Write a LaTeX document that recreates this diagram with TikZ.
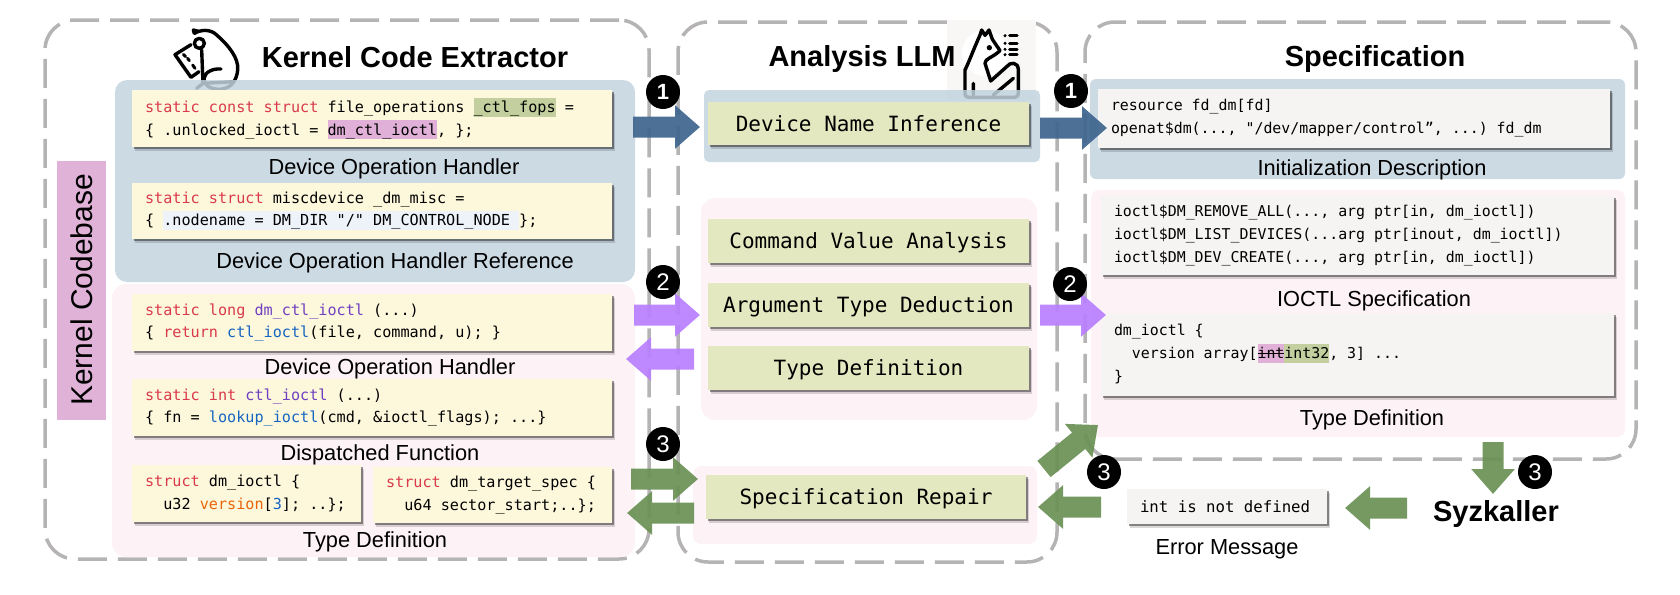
\documentclass[tikz,border=0pt]{standalone}
\usepackage{fontspec}
\usepackage{xcolor}
\setmainfont{Liberation Sans}
\setmonofont{DejaVu Sans Mono}
\usetikzlibrary{shadows,arrows.meta,calc}
\definecolor{dashgray}{HTML}{B5B3B3}
\definecolor{bluepanel}{HTML}{C3D3DF}
\definecolor{pinkpanel}{HTML}{FDF2F6}
\definecolor{codeyellow}{HTML}{FDF8DC}
\definecolor{stepgreen}{HTML}{E3E8C0}
\definecolor{specgray}{HTML}{F5F4F2}
\definecolor{basepink}{HTML}{E0B2D8}
\definecolor{bluearrow}{HTML}{3F658F}
\definecolor{purplearrow}{HTML}{B97FFF}
\definecolor{greenarrow}{HTML}{6A9155}
\definecolor{kwred}{HTML}{D93A4A}
\definecolor{fnpurple}{HTML}{7040C0}
\definecolor{fnblue}{HTML}{1565C0}
\definecolor{numorange}{HTML}{E8650A}
\definecolor{hlgreen}{HTML}{C3CF9E}
\definecolor{hlpink}{HTML}{E0B0D8}
\definecolor{hlblue}{HTML}{EEF3FA}
\newcommand{\hlc}[2]{{\setlength{\fboxsep}{0pt}\colorbox{#1}{\rule[-2pt]{0pt}{9.5pt}#2}}}
\newcommand{\kw}[1]{\textcolor{kwred}{#1}}
\newcommand{\fnp}[1]{\textcolor{fnpurple}{#1}}
\newcommand{\fnb}[1]{\textcolor{fnblue}{#1}}
\tikzset{
  every node/.style={inner sep=0pt, outer sep=0pt},
  px box/.style n args={4}{anchor=north west, minimum width=(#3-#1)*0.5pt, minimum height=(#4-#2)*0.5pt},
  dashpanel/.style={draw=dashgray, line width=1.75pt, rounded corners=15pt, dash pattern=on 14.5pt off 5.5pt},
  softshadow/.style={drop shadow={shadow xshift=1.5pt, shadow yshift=-1.8pt, fill=black, opacity=.15},
                     drop shadow={shadow xshift=.9pt, shadow yshift=-1.2pt, fill=black, opacity=.4}},
  codebox/.style={softshadow, fill=codeyellow, align=flush left, font=\ttfamily\fontsize{7.58}{11.2}\selectfont, inner xsep=6.5pt},
  specbox/.style={softshadow, fill=specgray, align=flush left, font=\ttfamily\fontsize{7.45}{11.5}\selectfont, inner xsep=6.5pt},
  stepbox/.style={softshadow, fill=stepgreen, align=center, text height=7.7pt, text depth=0pt, font=\ttfamily\fontsize{10.5}{12}\selectfont},
  caption/.style={font=\fontsize{10.9}{13}\selectfont, anchor=center, text height=7.8pt, text depth=0pt},
  title/.style={font=\bfseries\fontsize{14.5}{17}\selectfont, anchor=center, text height=10.4pt, text depth=0pt},
  badge/.style={circle, fill=black, text=white, minimum size=17pt, font=\fontsize{12}{13}\selectfont},
  blockarrow/.style={line width=10.5pt, -{Triangle[length=12.5pt,width=21pt]}, draw=#1},
  icon/.style={line width=1.7pt, line cap=round, line join=round, draw=black},
}
\begin{document}
\begin{tikzpicture}[x=0.5pt,y=-0.5pt]
\useasboundingbox (0,0) rectangle (1680,594);
% ---- outer dashed panels
\node[dashpanel, px box={45}{20}{649}{559}] (pA) at (45,20) {};
\node[dashpanel, px box={678}{22}{1057}{562}] (pB) at (678,22) {};
\node[dashpanel, px box={1085}{22}{1636}{459}] (pC) at (1085,22) {};
% ---- icon 1 (under the blue panel)
\begin{scope}[shift={(82.5pt,-10pt)},x=0.1667pt,y=-0.1667pt]
  \draw[icon] (88,40) .. controls (105,30) and (135,25) .. (155,45)
     .. controls (190,75) and (222,115) .. (218,150)
     .. controls (215,180) and (200,205) .. (165,208)
     .. controls (135,208) and (115,195) .. (117,175)
     .. controls (120,155) and (145,145) .. (168,147);
  \draw[icon] (88,40) -- (85,30) -- (100,34);
  \draw[icon] (103,70) circle (15);
  \draw[icon] (110,90) -- (114,190);
  \draw[icon] (95,205) -- (114,190) -- (205,185);
  \draw[icon] (78,74) -- (30,104) -- (78,172) -- (102,155);
  \draw[icon,line width=1.5pt] (55,103) -- (62,110) (68,115) -- (73,122) (83,135) -- (90,145);
\end{scope}
% ---- icon 2 background
\fill[specgray!70] (947,20) rectangle (1036,100);
\fill[white] (985,53) circle (23);
\begin{scope}[shift={(472.5pt,-10pt)},x=0.1667pt,y=-0.1667pt]
  \draw[icon] (105,45) .. controls (85,90) and (70,130) .. (60,150) -- (60,220)
     .. controls (60,230) and (65,232) .. (72,232) -- (205,232)
     .. controls (215,232) and (220,228) .. (220,218) -- (220,150)
     .. controls (220,125) and (195,125) .. (185,140) -- (137,183) -- (120,130)
     .. controls (120,115) and (140,115) .. (165,92) -- (142,58) -- (132,30) -- (120,46) -- (110,30) -- cycle;
  \fill (133,83) circle (8);
  \draw[icon] (85,190) -- (85,225) (145,225) -- (205,175);
  \draw[icon] (194,47) -- (216,47) (194,70) -- (216,70) (194,88) -- (216,88) (194,104) -- (216,104);
  \fill (180,47) circle (5) (180,70) circle (5) (180,88) circle (5) (180,104) circle (5);
\end{scope}
% ---- coloured panels
\node[px box={115}{80}{635}{282}, fill=bluepanel, opacity=.85, rounded corners=6pt] (blueA) at (115,80) {};
\node[px box={112}{284}{635}{557}, fill=pinkpanel, rounded corners=7pt] (pinkA) at (112,284) {};
\node[px box={704}{90}{1040}{162}, fill=bluepanel, opacity=.85, rounded corners=2.5pt] (blueB) at (704,90) {};
\node[px box={701}{198}{1037}{420}, fill=pinkpanel, rounded corners=7pt] (pinkB) at (701,198) {};
\node[px box={693}{466}{1037}{544}, fill=pinkpanel, rounded corners=4pt] (pinkC) at (693,466) {};
\node[px box={1090}{79}{1625}{179}, fill=bluepanel, opacity=.85, rounded corners=3pt] (blueD) at (1090,79) {};
\node[px box={1091}{190}{1625}{437}, fill=pinkpanel, rounded corners=4pt] (pinkD) at (1091,190) {};
% ---- base
\node[px box={57}{161}{106}{420}, fill=basepink] (base) at (57,161) {};
\node[rotate=90, font=\fontsize{15}{17}\selectfont] (baseT) at (82,290) {Kernel Codebase};
% ---- titles
\node[title] (tA) at (415,57) {Kernel Code Extractor};
\node[title] (tB) at (862,56) {Analysis LLM};
\node[title] (tC) at (1375,56) {Specification};
% ---- left code boxes
\node[codebox, px box={132}{90}{612}{147}, text width=(480-26)*0.5pt] (c1) at (132,90) {\kw{static const struct} file\_operations \hlc{hlgreen}{\_ctl\_fops} =\\\{ .unlocked\_ioctl = \hlc{hlpink}{dm\_ctl\_ioctl}, \};};
\node[caption] (l1) at (394,167) {Device Operation Handler};
\node[codebox, px box={132}{183}{612}{239}, text width=(480-26)*0.5pt] (c2) at (132,183) {\kw{static struct} miscdevice \_dm\_misc =\\\{ \hlc{hlblue}{.nodename = DM\_DIR "/" DM\_CONTROL\_NODE }\};};
\node[caption] (l2) at (395,261) {Device Operation Handler Reference};
\node[codebox, px box={132}{294}{612}{351}, text width=(480-26)*0.5pt] (c3) at (132,294) {\kw{static long} \fnp{dm\_ctl\_ioctl} (...)\\\{ \kw{return} \fnb{ctl\_ioctl}(file, command, u); \}};
\node[caption] (l3) at (390,367) {Device Operation Handler};
\node[codebox, px box={132}{379}{612}{436}, text width=(480-26)*0.5pt] (c4) at (132,379) {\kw{static int} \fnp{ctl\_ioctl} (...)\\\{ fn = \fnb{lookup\_ioctl}(cmd, \&ioctl\_flags); ...\}};
\node[caption] (l4) at (380,453) {Dispatched Function};
\node[codebox, px box={132}{465}{361}{522}, text width=(229-26)*0.5pt] (c5) at (132,465) {\kw{struct} dm\_ioctl \{\\\ \ u32 \textcolor{numorange}{version}[\textcolor{fnblue}{3}]; ..\};};
\node[codebox, px box={373}{467}{612}{523}, text width=(239-26)*0.5pt] (c6) at (373,467) {\kw{struct} dm\_target\_spec \{\\\ \ u64 sector\_start;..\};};
\node[caption] (l5) at (375,540) {Type Definition};
% ---- middle
\node[stepbox, px box={708}{102}{1029}{145}] (s1) at (708,102) {Device Name Inference};
\node[stepbox, px box={708}{219}{1029}{263}] (s2) at (708,219) {Command Value Analysis};
\node[stepbox, px box={708}{283}{1029}{327}] (s3) at (708,283) {Argument Type Deduction};
\node[stepbox, px box={708}{346}{1029}{390}] (s4) at (708,346) {Type Definition};
\node[stepbox, px box={706}{475}{1026}{519}] (s5) at (706,475) {Specification Repair};
% ---- right
\node[specbox, px box={1098}{89}{1610}{148}, text width=(512-26)*0.5pt] (r1) at (1098,89) {resource fd\_dm[fd]\\openat\$dm(..., "/dev/mapper/control”, ...) fd\_dm};
\node[caption] (rl1) at (1372,168) {Initialization Description};
\node[specbox, px box={1101}{196}{1614}{275}, text width=(513-26)*0.5pt] (r2) at (1101,196) {ioctl\$DM\_REMOVE\_ALL(..., arg ptr[in, dm\_ioctl])\\ioctl\$DM\_LIST\_DEVICES(...arg ptr[inout, dm\_ioctl])\\ioctl\$DM\_DEV\_CREATE(..., arg ptr[in, dm\_ioctl])};
\node[caption] (rl2) at (1374,299) {IOCTL Specification};
\node[specbox, px box={1101}{313}{1614}{396}, text width=(513-26)*0.5pt] (r3) at (1101,313) {dm\_ioctl \{\\\ \ version array[\hlc{hlpink}{\rlap{\rule[2.4pt]{13.4pt}{.5pt}}int}\hlc{hlgreen}{int32}, 3] ...\\\}};
\node[caption] (rl3) at (1372,418) {Type Definition};
\node[specbox, px box={1127}{489}{1327}{524}, text width=(200-26)*0.5pt, font=\ttfamily\fontsize{7.85}{11}\selectfont] (msg) at (1127,489) {int is not defined};
\node[caption] (msgL) at (1227,547) {Error Message};
\node[title] (syz) at (1496,511) {Syzkaller};
% ---- arrow ends
\coordinate (a1s) at (633,127);   \coordinate (a1e) at (700,127);
\coordinate (a2s) at (1040,128);  \coordinate (a2e) at (1107,128);
\coordinate (a3s) at (634,315);   \coordinate (a3e) at (700,315);
\coordinate (a4s) at (694,359);   \coordinate (a4e) at (626,359);
\coordinate (a5s) at (1040,315);  \coordinate (a5e) at (1106,315);
\coordinate (a6s) at (631,479);   \coordinate (a6e) at (698,479);
\coordinate (a7s) at (694,513);   \coordinate (a7e) at (627,513);
\coordinate (a8s) at (1044,469);  \coordinate (a8e) at (1098,425);
\coordinate (a9s) at (1101,507);  \coordinate (a9e) at (1038,507);
\coordinate (a10s) at (1407,508); \coordinate (a10e) at (1345,508);
\coordinate (a11s) at (1493,442); \coordinate (a11e) at (1493,494);
\begin{scope}[transparency group, opacity=.93]
\draw[blockarrow=bluearrow] (a1s) -- (a1e);
\draw[blockarrow=bluearrow] (a2s) -- (a2e);
\draw[blockarrow=purplearrow] (a3s) -- (a3e);
\draw[blockarrow=purplearrow] (a4s) -- (a4e);
\draw[blockarrow=purplearrow] (a5s) -- (a5e);
\draw[blockarrow=greenarrow] (a6s) -- (a6e);
\draw[blockarrow=greenarrow] (a7s) -- (a7e);
\draw[blockarrow=greenarrow] (a8s) -- (a8e);
\draw[blockarrow=greenarrow] (a9s) -- (a9e);
\draw[blockarrow=greenarrow] (a10s) -- (a10e);
\draw[blockarrow=greenarrow] (a11s) -- (a11e);
\end{scope}
% ---- badges
\node[badge, font=\bfseries\fontsize{11}{12}\selectfont] (b1) at (663,92) {1};
\node[badge, font=\bfseries\fontsize{11}{12}\selectfont] (b2) at (1071,91) {1};
\node[badge] (b3) at (663,282) {2};
\node[badge] (b4) at (1070,284) {2};
\node[badge] (b5) at (663,444) {3};
\node[badge] (b6) at (1104,472) {3};
\node[badge] (b7) at (1535,472) {3};
\end{tikzpicture}
\end{document}
